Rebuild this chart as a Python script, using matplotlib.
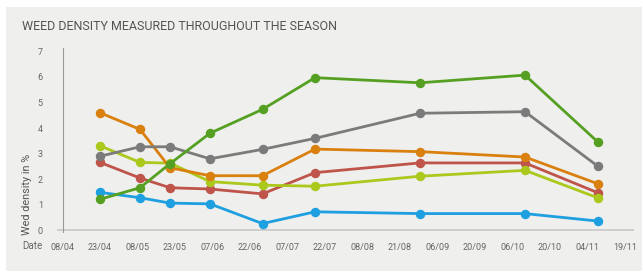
import matplotlib
matplotlib.use("Agg")
import matplotlib.pyplot as plt
import pandas as pd

plt.rcParams['font.family'] = ['Roboto', 'DejaVu Sans']

title = "WEED DENSITY MEASURED THROUGHOUT THE SEASON"
ylabel = "Wed density in %"
start_date = "2014-04-08"
sample_dates = ["2014-04-23", "2014-05-09", "2014-05-21", "2014-06-06", "2014-06-27",
                "2014-07-18", "2014-08-29", "2014-10-10", "2014-11-08"]
tick_labels = ["08/04", "23/04", "08/05", "23/05", "07/06", "22/06", "07/07", "22/07",
               "08/08", "21/08", "06/09", "20/09", "06/10", "20/10", "04/11", "19/11"]
tick_days = [0, 15, 30, 45, 60, 75, 90, 105, 120, 135, 150, 165, 180, 195, 210, 225]

red    = [2.66, 2.05, 1.67, 1.62, 1.43, 2.26, 2.64, 2.64, 1.48]
blue   = [1.49, 1.28, 1.07, 1.04, 0.27, 0.73, 0.66, 0.66, 0.37]
lime   = [3.31, 2.66, 2.63, 1.91, 1.77, 1.73, 2.12, 2.35, 1.28]
orange = [4.60, 3.95, 2.45, 2.14, 2.14, 3.18, 3.08, 2.87, 1.83]
gray   = [2.90, 3.27, 3.27, 2.80, 3.17, 3.60, 4.58, 4.64, 2.52]
green  = [1.22, 1.67, 2.61, 3.80, 4.73, 5.97, 5.77, 6.07, 3.47]

series = [
    (red, "#bf544a"),
    (blue, "#1e9fe0"),
    (lime, "#abc81c"),
    (orange, "#d9800f"),
    (gray, "#7b7b7b"),
    (green, "#55a022"),
]

days = [(pd.Timestamp(d) - pd.Timestamp(start_date)).days for d in sample_dates]

bg = "#efefed"
fig = plt.figure(figsize=(6.43, 2.72), dpi=100, facecolor="white")
panel = plt.Rectangle((6 / 643, 1 / 272), 636 / 643, 264 / 272, transform=fig.transFigure,
                      facecolor=bg, edgecolor="none", zorder=-10)
fig.patches.append(panel)

ax = fig.add_axes([56.7 / 643, 1 - 233 / 272, (634 - 56.7) / 643, (233 - 48) / 272])
ax.set_zorder(5)
ax.set_facecolor("none")
ax.set_xlim(-2.32, 228.6)
ax.set_ylim(-0.098, 7.129)
for s in ax.spines.values():
    s.set_visible(False)

ax.axhline(0, color="#c8c8c8", lw=1.2, zorder=1)
ax.plot([0, 0], [-0.098, 7.129], color="#9a9a9a", lw=0.8, zorder=1)

for vals, col in series:
    ax.plot(days, vals, color=col, lw=2.0, marker="o", markersize=5.8, zorder=3,
            solid_capstyle="round")

ax.set_xticks(tick_days)
ax.set_xticklabels(tick_labels)
ax.set_yticks(range(0, 8))
ax.tick_params(axis="both", length=0, labelsize=6.5, labelcolor="#666666")
ax.tick_params(axis="x", pad=7)
ax.tick_params(axis="y", pad=10)

fig.text(22 / 643, 1 - 246 / 272, "Date", fontsize=7, color="#666666", va="center", ha="left")
fig.text(27 / 643, 1 - 194 / 272, ylabel, fontsize=7.8, color="#555555", rotation=90,
         va="center", ha="center")
fig.text(22.5 / 643, 1 - 26 / 272, title, fontsize=9, color="#555555", va="center", ha="left")

fig.savefig("out.png", dpi=100, facecolor="white")
